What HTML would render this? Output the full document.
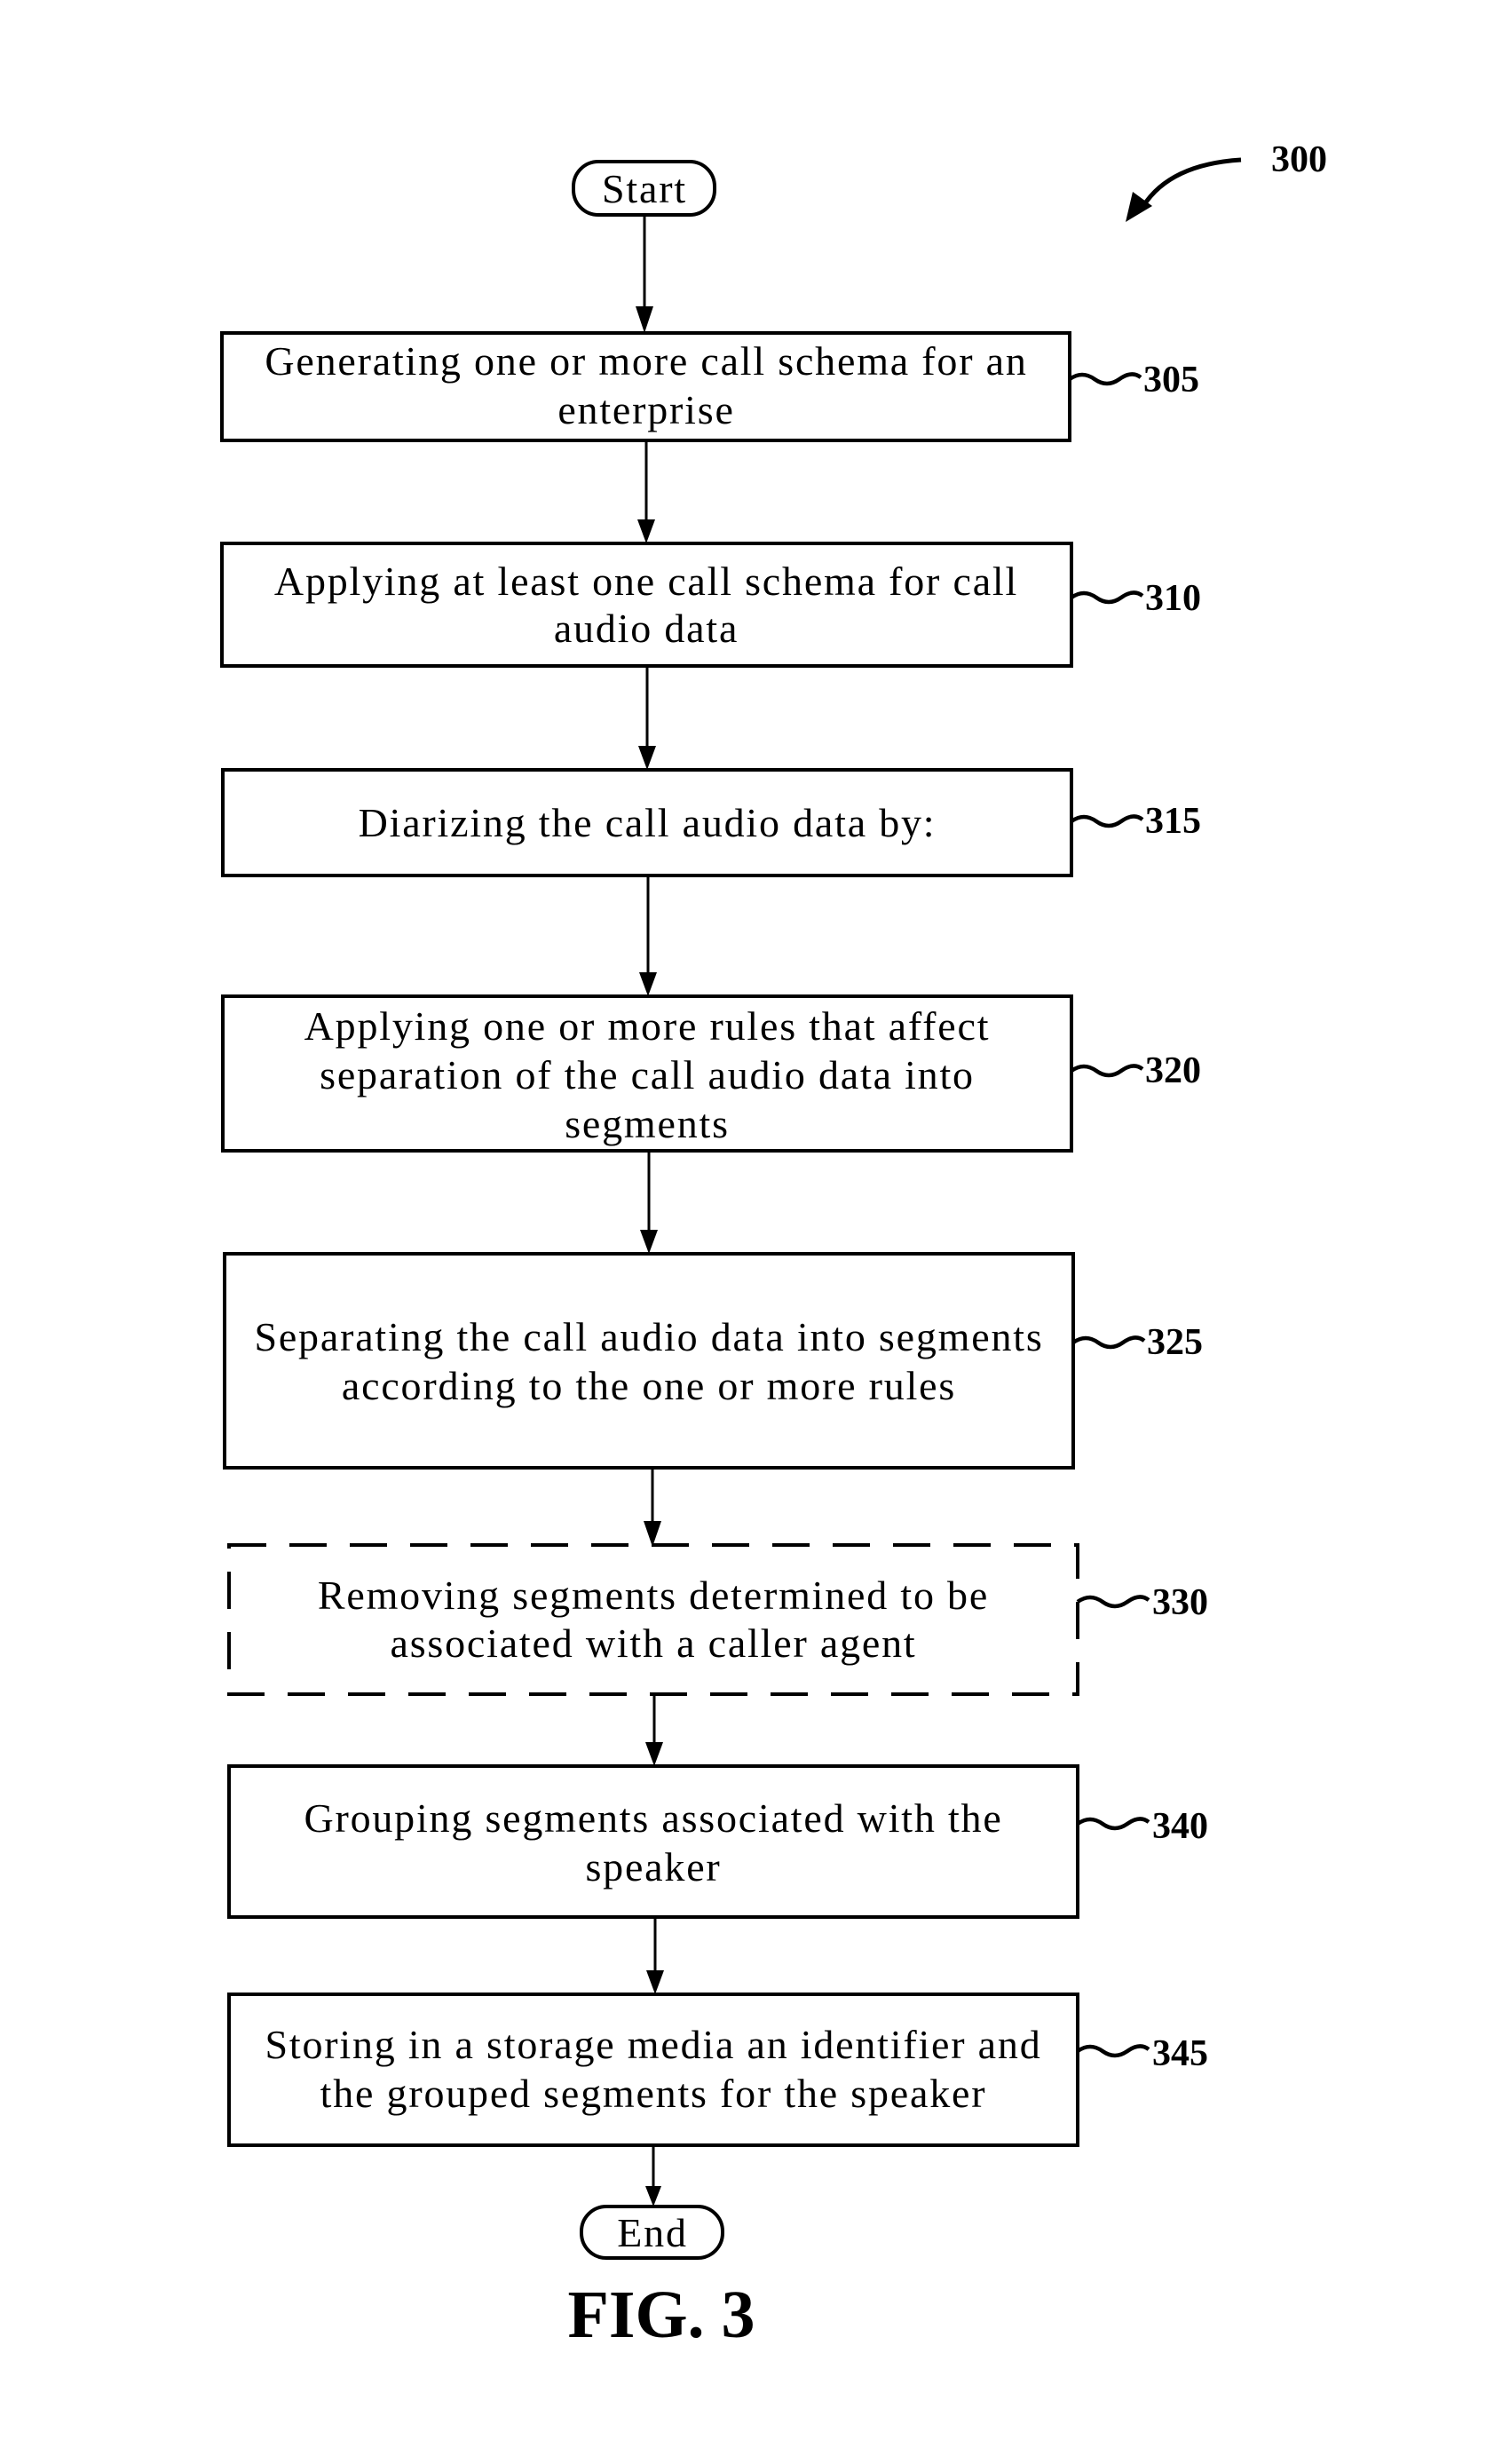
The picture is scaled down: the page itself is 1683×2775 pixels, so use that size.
<!DOCTYPE html>
<html><head><meta charset="utf-8"><style>
html,body{margin:0;padding:0;background:#fff;}
svg{display:block;}
text{font-family:"Liberation Serif",serif;fill:#000;}
.t{font-size:46px;text-anchor:middle;letter-spacing:1.8px;}
.l{font-size:42px;font-weight:bold;}
</style></head><body>
<svg width="1683" height="2775" viewBox="0 0 1683 2775" xmlns="http://www.w3.org/2000/svg">
<g fill="none" stroke="#000" stroke-width="4">
<rect x="646" y="182" width="159" height="60" rx="28"/>
<rect x="250" y="375" width="955" height="121"/>
<rect x="250" y="612" width="957" height="138"/>
<rect x="251" y="867" width="956" height="119"/>
<rect x="251" y="1122" width="956" height="174"/>
<rect x="253" y="1412" width="956" height="241"/>
<rect x="258" y="1740" width="956" height="168" stroke-dasharray="42,26"/>
<rect x="258" y="1989" width="956" height="170"/>
<rect x="258" y="2246" width="956" height="170"/>
<rect x="655" y="2485" width="159" height="58" rx="28"/>
<g stroke-width="4.5">
<path d="M1205,427 q14,-10 28,0 t28,0 t24,-2"/>
<path d="M1207,673 q14,-10 28,0 t28,0 t24,-2"/>
<path d="M1207,925 q14,-10 28,0 t28,0 t24,-2"/>
<path d="M1207,1206 q14,-10 28,0 t28,0 t24,-2"/>
<path d="M1209,1512 q14,-10 28,0 t28,0 t24,-2"/>
<path d="M1214,1804 q14,-10 28,0 t28,0 t24,-2"/>
<path d="M1214,2054 q14,-10 28,0 t28,0 t24,-2"/>
<path d="M1214,2310 q14,-10 28,0 t28,0 t24,-2"/>
</g>
<path d="M1398,180 Q1318,185 1288,232" stroke-width="5"/>
</g>
<path d="M1268,250 L1276,216 L1298,232 Z"/>
<g stroke="#000" stroke-width="3">
<line x1="726" y1="242" x2="726" y2="350"/>
<line x1="728" y1="496" x2="728" y2="590"/>
<line x1="729" y1="750" x2="729" y2="845"/>
<line x1="730" y1="986" x2="730" y2="1100"/>
<line x1="731" y1="1296" x2="731" y2="1390"/>
<line x1="735" y1="1653" x2="735" y2="1716"/>
<line x1="737" y1="1908" x2="737" y2="1965"/>
<line x1="738" y1="2159" x2="738" y2="2222"/>
<line x1="736" y1="2416" x2="736" y2="2465"/>
</g>
<g>
<path d="M716,345 L736,345 L726,375 Z"/>
<path d="M718,585 L738,585 L728,612 Z"/>
<path d="M719,840 L739,840 L729,867 Z"/>
<path d="M720,1095 L740,1095 L730,1122 Z"/>
<path d="M721,1385 L741,1385 L731,1412 Z"/>
<path d="M725,1713 L745,1713 L735,1742 Z"/>
<path d="M727,1962 L747,1962 L737,1989 Z"/>
<path d="M728,2219 L748,2219 L738,2246 Z"/>
<path d="M727,2462 L745,2462 L736,2485 Z"/>
</g>
<text class="t" x="726" y="228">Start</text>
<text class="t" x="728" y="422">Generating one or more call schema for an</text>
<text class="t" x="728" y="477">enterprise</text>
<text class="t" x="728" y="670">Applying at least one call schema for call</text>
<text class="t" x="728" y="723">audio data</text>
<text class="t" x="729" y="942">Diarizing the call audio data by:</text>
<text class="t" x="729" y="1171">Applying one or more rules that affect</text>
<text class="t" x="729" y="1226">separation of the call audio data into</text>
<text class="t" x="729" y="1281">segments</text>
<text class="t" x="731" y="1521">Separating the call audio data into segments</text>
<text class="t" x="731" y="1576">according to the one or more rules</text>
<text class="t" x="736" y="1812">Removing segments determined to be</text>
<text class="t" x="736" y="1866">associated with a caller agent</text>
<text class="t" x="736" y="2063">Grouping segments associated with the</text>
<text class="t" x="736" y="2118">speaker</text>
<text class="t" x="736" y="2318">Storing in a storage media an identifier and</text>
<text class="t" x="736" y="2373">the grouped segments for the speaker</text>
<text class="t" x="735" y="2530">End</text>
<text class="l" x="1288" y="441">305</text>
<text class="l" x="1290" y="687">310</text>
<text class="l" x="1290" y="938">315</text>
<text class="l" x="1290" y="1219">320</text>
<text class="l" x="1292" y="1525">325</text>
<text class="l" x="1298" y="1818">330</text>
<text class="l" x="1298" y="2070">340</text>
<text class="l" x="1298" y="2326">345</text>
<text class="l" x="1432" y="193">300</text>
<text x="745" y="2632" style="font-size:76px;font-weight:bold;text-anchor:middle">FIG. 3</text>
</svg>
</body></html>
